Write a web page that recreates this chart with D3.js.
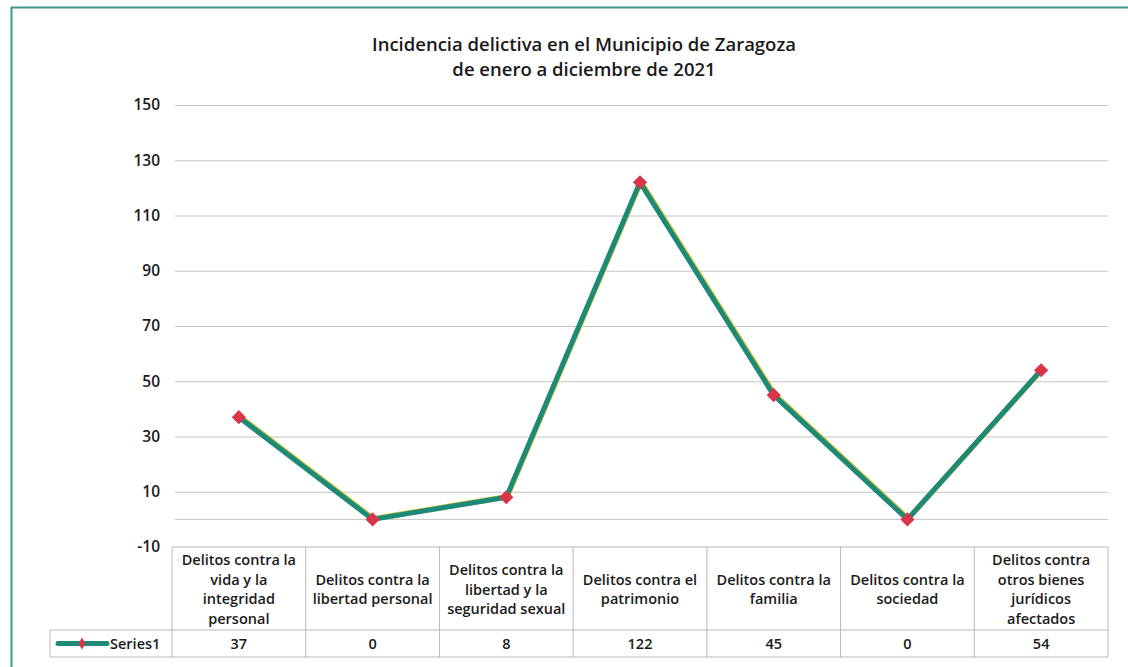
<!DOCTYPE html>
<html>
<head>
<meta charset="utf-8">
<script src="https://cdn.jsdelivr.net/npm/d3@7"></script>
<style>
  html, body { margin: 0; padding: 0; background: #ffffff; overflow: hidden; }
  svg { display: block; }
  text { font-family: "Open Sans", "Noto Sans", sans-serif; font-weight: 600; fill: #1a1a1a; }
</style>
</head>
<body>
<svg id="chart" width="1128" height="667"></svg>
<script>
// Incidencia delictiva, Municipio de Zaragoza, 2021
const categories = [
  ["Delitos contra la", "vida y la", "integridad", "personal"],
  ["Delitos contra la", "libertad personal"],
  ["Delitos contra la", "libertad y la", "seguridad sexual"],
  ["Delitos contra el", "patrimonio"],
  ["Delitos contra la", "familia"],
  ["Delitos contra la", "sociedad"],
  ["Delitos contra", "otros bienes", "jurídicos", "afectados"]
];
const values = [37, 0, 8, 122, 45, 0, 54];
const yTicks = [-10, 10, 30, 50, 70, 90, 110, 130, 150];
const seriesName = "Series1";
const titleLines = ["Incidencia delictiva en el Municipio de Zaragoza", "de enero a diciembre de 2021"];

const svg = d3.select("#chart");
const lineColor = "#1d8a78";
const markerColor = "#d93448";
const gridColor = "#c4c4c4";

// outer frame
svg.append("rect")
  .attr("x", 11.5).attr("y", 7.5)
  .attr("width", 1130).attr("height", 680)
  .attr("fill", "none")
  .attr("stroke", "#3a9a8c")
  .attr("stroke-width", 2);

// plot area
const plotLeft = 172, plotRight = 1108;
const plotTop = 105, plotBottom = 547;

const x = d3.scaleBand()
  .domain(d3.range(categories.length))
  .range([plotLeft, plotRight])
  .padding(0);

const y = d3.scaleLinear()
  .domain([-10, 150])
  .range([plotBottom, plotTop]);

// title
svg.append("g").selectAll("text")
  .data(titleLines)
  .join("text")
  .attr("x", 584)
  .attr("y", (d, i) => 51 + i * 25)
  .attr("text-anchor", "middle")
  .attr("font-size", 18.5)
  .text(d => d);

// horizontal gridlines and value labels
const yAxis = d3.axisLeft(y)
  .tickValues(yTicks)
  .tickSize(-(plotRight - plotLeft - 3))
  .tickFormat(d => String(d));

const gy = svg.append("g")
  .attr("transform", `translate(${plotLeft + 3},0)`)
  .call(yAxis);
gy.select(".domain").remove();
gy.selectAll(".tick line")
  .attr("stroke", gridColor)
  .attr("stroke-width", 1);
gy.selectAll(".tick text")
  .attr("font-size", 15.5)
  .attr("fill", "#1a1a1a")
  .attr("font-family", "\"Open Sans\", sans-serif")
  .attr("font-weight", 600)
  .attr("x", -15);
// bottom tick has the table border instead of a gridline
gy.selectAll(".tick").filter(d => d === -10).select("line").remove();

// category axis at zero
svg.append("line")
  .attr("x1", plotLeft + 3).attr("x2", plotRight)
  .attr("y1", y(0)).attr("y2", y(0))
  .attr("stroke", gridColor).attr("stroke-width", 1);

// data table
const headerBottom = 630, tableBottom = 657, legendLeft = 50;
const tableColor = "#b8b8b8";
const table = svg.append("g")
  .attr("stroke", tableColor).attr("stroke-width", 1).attr("fill", "none");
table.append("line").attr("x1", plotLeft).attr("x2", plotRight).attr("y1", plotBottom).attr("y2", plotBottom);
table.append("line").attr("x1", legendLeft).attr("x2", plotRight).attr("y1", headerBottom).attr("y2", headerBottom);
table.append("line").attr("x1", legendLeft).attr("x2", plotRight).attr("y1", tableBottom).attr("y2", tableBottom);
table.append("line").attr("x1", legendLeft).attr("x2", legendLeft).attr("y1", headerBottom).attr("y2", tableBottom);
table.selectAll(".vline")
  .data(d3.range(categories.length + 1))
  .join("line")
  .attr("x1", i => plotLeft + i * x.bandwidth())
  .attr("x2", i => plotLeft + i * x.bandwidth())
  .attr("y1", plotBottom).attr("y2", tableBottom);

// category labels
const headerMid = (plotBottom + headerBottom) / 2 + 1;
const lh = 19.5;
svg.append("g").selectAll("text")
  .data(categories)
  .join("text")
  .attr("text-anchor", "middle")
  .attr("font-size", 14.5)
  .each(function(lines, i) {
    const t = d3.select(this);
    const cx = x(i) + x.bandwidth() / 2;
    const y0 = headerMid - (lines.length - 1) * lh / 2 + 5;
    lines.forEach((ln, j) => {
      t.append("tspan").attr("x", cx).attr("y", y0 + j * lh).text(ln);
    });
  });

// values row
svg.append("g").selectAll("text")
  .data(values)
  .join("text")
  .attr("x", (d, i) => x(i) + x.bandwidth() / 2)
  .attr("y", (headerBottom + tableBottom) / 2 + 5.5)
  .attr("text-anchor", "middle")
  .attr("font-size", 14.5)
  .text(d => d);

// legend key inside the table
const lkY = (headerBottom + tableBottom) / 2;
svg.append("line")
  .attr("x1", 58).attr("x2", 107)
  .attr("y1", lkY).attr("y2", lkY)
  .attr("stroke", lineColor).attr("stroke-width", 5).attr("stroke-linecap", "round");
svg.append("path")
  .attr("d", d3.symbol(d3.symbolDiamond, 40)())
  .attr("transform", `translate(82,${lkY})`)
  .attr("fill", markerColor);
svg.append("text")
  .attr("x", 110).attr("y", lkY + 5.5)
  .attr("font-size", 14.5)
  .text(seriesName);

// series line
const line = d3.line()
  .x((d, i) => x(i) + x.bandwidth() / 2)
  .y(d => y(d));

svg.append("path")
  .datum(values)
  .attr("d", line)
  .attr("fill", "none")
  .attr("stroke", "#c9c23a")
  .attr("stroke-width", 5.5)
  .attr("stroke-linejoin", "round")
  .attr("transform", "translate(0.8,-0.6)");
svg.append("path")
  .datum(values)
  .attr("d", line)
  .attr("fill", "none")
  .attr("stroke", lineColor)
  .attr("stroke-width", 5)
  .attr("stroke-linejoin", "round");

// markers
svg.append("g").selectAll("path")
  .data(values)
  .join("path")
  .attr("d", d3.symbol(d3.symbolSquare, 100)())
  .attr("transform", (d, i) => `translate(${x(i) + x.bandwidth() / 2},${y(d)}) rotate(45)`)
  .attr("fill", markerColor);
</script>
</body>
</html>
